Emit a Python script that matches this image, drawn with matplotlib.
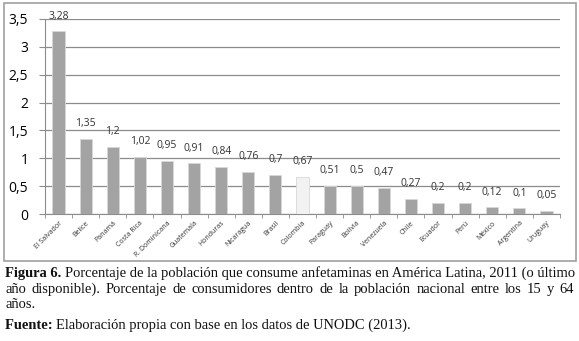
import matplotlib.pyplot as plt
from matplotlib.patches import Rectangle
import numpy as np

paises = ["El Salvador", "Belice", "Panamá", "Costa Rica", "R. Dominicana",
          "Guatemala", "Honduras", "Nicaragua", "Brasil", "Colombia",
          "Paraguay", "Bolivia", "Venezuela", "Chile", "Ecuador", "Perú",
          "México", "Argentina", "Uruguay"]
valores = [3.28, 1.35, 1.2, 1.02, 0.95, 0.91, 0.84, 0.76, 0.7, 0.67,
           0.51, 0.5, 0.47, 0.27, 0.2, 0.2, 0.12, 0.1, 0.05]
etiquetas = ["3,28", "1,35", "1,2", "1,02", "0,95", "0,91", "0,84", "0,76",
             "0,7", "0,67", "0,51", "0,5", "0,47", "0,27", "0,2", "0,2",
             "0,12", "0,1", "0,05"]
yticks = [0, 0.5, 1, 1.5, 2, 2.5, 3, 3.5]
ytick_labels = ["0", "0,5", "1", "1,5", "2", "2,5", "3", "3,5"]

# caption lines as runs of (text, weight); the second line is justified
caption = [
    [("Figura 6. ", "bold"),
     ("Porcentaje de la población que consume anfetaminas en América Latina, 2011 (o último", "normal")],
    [("año disponible). Porcentaje de consumidores dentro de la población nacional entre los 15 y 64", "normal")],
    [("años.", "normal")],
    [("Fuente: ", "bold"),
     ("Elaboración propia con base en los datos de UNODC (2013).", "normal")],
]
caption_baseline = [277, 293, 308, 329]

fig = plt.figure(figsize=(5.79, 3.41), dpi=100)
fig.patches.append(Rectangle((4 / 579, 1 - 261 / 341), 572 / 579, 258 / 341,
                             transform=fig.transFigure, fill=False,
                             edgecolor="#a0a0a0", linewidth=1.2))

ax = fig.add_axes([45 / 579, 1 - 214 / 341, 515 / 579, 195 / 341])
x = np.arange(len(paises))
colores = ["#f2f2f2" if p == "Colombia" else "#a3a3a3" for p in paises]
ax.bar(x, valores, width=0.45, color=colores, edgecolor="#d8d8d8",
       linewidth=0.6, zorder=3)

for xi, v, t in zip(x, valores, etiquetas):
    ax.annotate(t, (xi, v), xytext=(0, 7), textcoords="offset points",
                ha="center", va="bottom", fontsize=7.5,
                family="Open Sans", color="#333333")

ax.set_xlim(-0.5, len(paises) - 0.5)
ax.set_ylim(0, 3.5)
ax.set_yticks(yticks)
ax.set_yticklabels(ytick_labels, fontsize=10, family="Open Sans")
ax.yaxis.grid(True, color="#8c8c8c", linewidth=0.9, zorder=0)
ax.set_xticks(x)
ax.set_xticklabels(paises, rotation=45, ha="right", rotation_mode="anchor",
                   fontsize=5, family="Open Sans", color="#333333")
ax.set_xticks(np.arange(len(paises) + 1) - 0.5, minor=True)
ax.tick_params(axis="x", which="major", length=0, pad=4)
ax.tick_params(axis="x", which="minor", length=3, color="#8c8c8c")
ax.tick_params(axis="y", length=4, color="#8c8c8c", pad=8)
for s in ["top", "right"]:
    ax.spines[s].set_visible(False)
ax.spines["left"].set_color("#8c8c8c")
ax.spines["bottom"].set_color("#8c8c8c")

# caption
serif = "Liberation Serif"
left, right = 5, 574
renderer = fig.canvas.get_renderer()


def text_width(txt, size, weight="normal"):
    t = fig.text(0, 0, txt, fontsize=size, family=serif, weight=weight)
    w = t.get_window_extent(renderer).width
    t.remove()
    return w


def runs_width(runs, size):
    return sum(text_width(txt, size, w) for txt, w in runs)


# size so that the first line reaches the right edge
size = 10.5 * (right - left) / runs_width(caption[0], 10.5)

for i, (runs, yy) in enumerate(zip(caption, caption_baseline)):
    ypos = 1 - yy / 341
    if i == 1:
        words = runs[0][0].split()
        widths = [text_width(wd, size) for wd in words]
        gap = (right - left - sum(widths)) / (len(words) - 1)
        xpos = left
        for wd, w in zip(words, widths):
            fig.text(xpos / 579, ypos, wd, fontsize=size, family=serif,
                     va="baseline", color="#111111")
            xpos += w + gap
        continue
    xpos = left
    for txt, w in runs:
        fig.text(xpos / 579, ypos, txt, fontsize=size, family=serif,
                 weight=w, va="baseline", color="#111111")
        xpos += text_width(txt, size, w)

fig.savefig("out.png", dpi=100)
